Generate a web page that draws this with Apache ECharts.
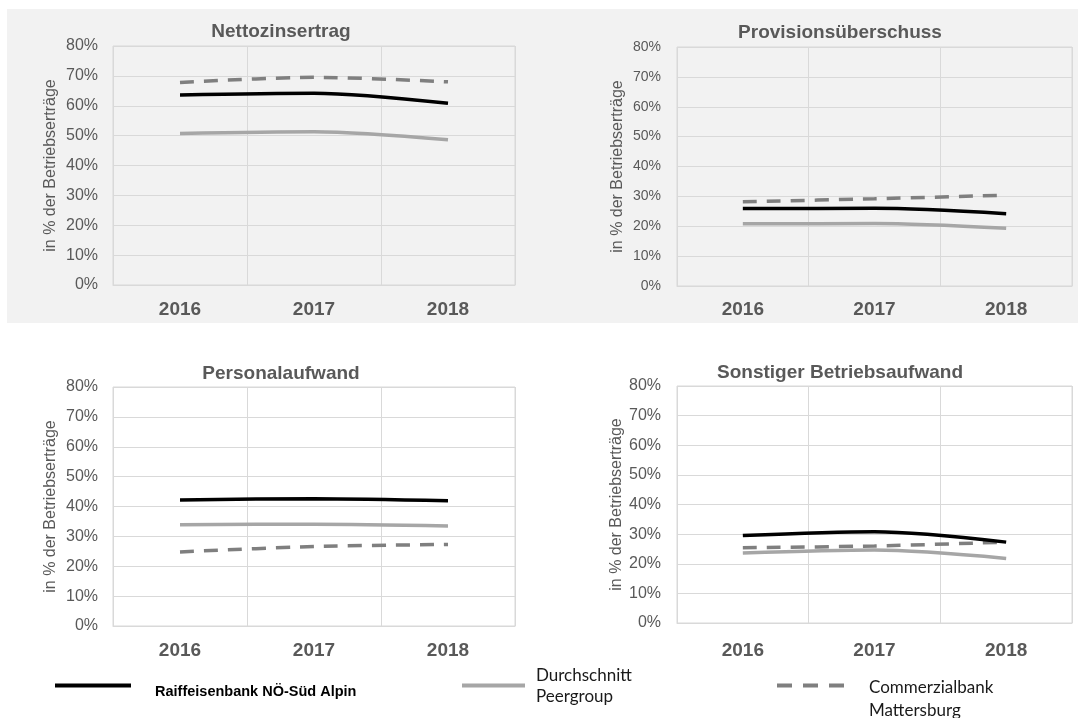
<!DOCTYPE html>
<html>
<head>
<meta charset="utf-8">
<script src="https://cdn.jsdelivr.net/npm/echarts@6/dist/echarts.min.js"></script>
<style>
html,body{margin:0;padding:0;background:#ffffff;}
#chart{width:1078px;height:718px;}
</style>
</head>
<body>
<div id="chart"></div>
<script>
// ---------- data ----------
const years = ['2016', '2017', '2018'];
const seriesNames = ['Raiffeisenbank NÖ-Süd Alpin', 'Durchschnitt Peergroup', 'Commerzialbank Mattersburg'];
const legendLines = [['Raiffeisenbank NÖ-Süd Alpin'], ['Durchschnitt', 'Peergroup'], ['Commerzialbank', 'Mattersburg']];
const panelTitles = ['Nettozinsertrag', 'Provisionsüberschuss', 'Personalaufwand', 'Sonstiger Betriebsaufwand'];
const yAxisName = 'in % der Betriebserträge';

// values in % of operating income
const nettozinsRaiffeisen = [63.6, 64.2, 60.8];
const nettozinsPeergroup  = [50.7, 51.3, 48.6];
const nettozinsCommerzial = [67.8, 69.5, 68.0];

const provisionRaiffeisen = [25.9, 26.0, 24.2];
const provisionPeergroup  = [20.8, 20.9, 19.3];
const provisionCommerzial = [28.2, 29.2, 30.4];

const personalRaiffeisen = [42.2, 42.6, 41.9];
const personalPeergroup  = [33.9, 34.1, 33.5];
const personalCommerzial = [24.8, 26.6, 27.3];

const sonstigerRaiffeisen = [29.5, 30.8, 27.3];
const sonstigerPeergroup  = [23.6, 24.6, 21.8];
const sonstigerCommerzial = [25.4, 26.0, 27.3];

const yMin = 0, yMax = 80, yStep = 10;

const panelData = [
  [nettozinsRaiffeisen, nettozinsPeergroup, nettozinsCommerzial],
  [provisionRaiffeisen, provisionPeergroup, provisionCommerzial],
  [personalRaiffeisen, personalPeergroup, personalCommerzial],
  [sonstigerRaiffeisen, sonstigerPeergroup, sonstigerCommerzial]
];

// ---------- layout / style ----------
const FONT = '"Liberation Sans", Arial, Helvetica, sans-serif';
const TXT = '#595959';
const GRIDC = '#d9d9d9';
const lineColors = ['#000000', '#a6a6a6', '#7f7f7f'];
const lineTypes = ['solid', 'solid', [14, 10]];

const layouts = [
  {grid: {left: 113, top: 46, width: 402, height: 239}, titleX: 281, titleTop: 22, ySize: 16, yMargin: 15, nameGap: 54, xMargin: 15},
  {grid: {left: 677, top: 47, width: 395, height: 239}, titleX: 840, titleTop: 23, ySize: 14, yMargin: 16, nameGap: 51, xMargin: 14},
  {grid: {left: 113, top: 387, width: 402, height: 239}, titleX: 281, titleTop: 364, ySize: 16, yMargin: 15, nameGap: 54, xMargin: 15},
  {grid: {left: 677, top: 386, width: 395, height: 237}, titleX: 840, titleTop: 363, ySize: 16, yMargin: 16, nameGap: 51, xMargin: 18}
];

const grids = [], xAxes = [], yAxes = [], titles = [], series = [];
layouts.forEach((L, i) => {
  grids.push(Object.assign({show: true, borderColor: GRIDC, borderWidth: 1, backgroundColor: 'transparent', containLabel: false}, L.grid));
  titles.push({
    text: panelTitles[i], left: L.titleX, top: L.titleTop, textAlign: 'center', padding: 0,
    textStyle: {fontFamily: FONT, fontSize: 19, fontWeight: 'bold', color: TXT}
  });
  xAxes.push({
    type: 'category', gridIndex: i, data: years, boundaryGap: true,
    axisLine: {show: true, lineStyle: {color: GRIDC, width: 1}},
    axisTick: {show: false},
    splitLine: {show: true, lineStyle: {color: GRIDC, width: 1}},
    axisLabel: {fontFamily: FONT, fontSize: 19, fontWeight: 'bold', color: TXT, margin: L.xMargin}
  });
  yAxes.push({
    type: 'value', gridIndex: i, min: yMin, max: yMax, interval: yStep,
    name: yAxisName, nameLocation: 'middle', nameGap: L.nameGap,
    nameTextStyle: {fontFamily: FONT, fontSize: 16, color: TXT},
    axisLine: {show: false}, axisTick: {show: false},
    splitLine: {show: true, lineStyle: {color: GRIDC, width: 1}},
    axisLabel: {fontFamily: FONT, fontSize: L.ySize, color: TXT, margin: L.yMargin, formatter: '{value}%'}
  });
  panelData[i].forEach((vals, k) => {
    series.push({
      name: seriesNames[k], type: 'line', xAxisIndex: i, yAxisIndex: i,
      data: vals, symbol: 'none', smooth: 0.3, silent: true,
      z: 10 - k,
      lineStyle: {color: lineColors[k], width: 3.5, type: lineTypes[k], cap: 'butt'},
      itemStyle: {color: lineColors[k]}
    });
  });
});

const LEGFONT = 'Lato, "Open Sans", sans-serif';
const legendBase = {
  orient: 'horizontal', padding: 0, selectedMode: false,
  itemHeight: 4, itemStyle: {opacity: 0, borderWidth: 0}
};
function legendText(k) {
  return '{sp| }\n' + legendLines[k].map(s => '{t|' + s + '}').join('\n');
}
const legends = [
  Object.assign({}, legendBase, {
    data: [seriesNames[0]], left: 53, top: 677, itemWidth: 76,
    lineStyle: {width: 4},
    formatter: () => legendText(0),
    textStyle: {padding: [0, 0, 0, 19], rich: {
      sp: {fontSize: 1, lineHeight: 12},
      t: {fontFamily: FONT, fontSize: 14.5, fontWeight: 'bold', color: '#000000', lineHeight: 16}
    }}
  }),
  Object.assign({}, legendBase, {
    data: [seriesNames[1]], left: 460, top: 664, itemWidth: 63,
    lineStyle: {width: 4},
    formatter: () => legendText(1),
    textStyle: {padding: [0, 0, 0, 6], rich: {
      sp: {fontSize: 1, lineHeight: 1},
      t: {fontFamily: LEGFONT, fontSize: 17, color: '#1a1a1a', lineHeight: 21}
    }}
  }),
  Object.assign({}, legendBase, {
    data: [seriesNames[2]], left: 775, top: 662, itemWidth: 67,
    lineStyle: {width: 4, type: [15, 11]},
    formatter: () => legendText(2),
    textStyle: {padding: [0, 0, 0, 20], rich: {
      sp: {fontSize: 1, lineHeight: 27},
      t: {fontFamily: LEGFONT, fontSize: 17, color: '#1a1a1a', lineHeight: 23}
    }}
  })
];

const chart = echarts.init(document.getElementById('chart'), null, {renderer: 'canvas', width: 1078, height: 718});
chart.setOption({
  animation: false,
  backgroundColor: '#ffffff',
  graphic: {elements: [{type: 'rect', silent: true, z: -100, shape: {x: 7, y: 9, width: 1071, height: 314}, style: {fill: '#f2f2f2'}}]},
  title: titles,
  grid: grids,
  xAxis: xAxes,
  yAxis: yAxes,
  legend: legends,
  series: series
});
</script>
</body>
</html>
